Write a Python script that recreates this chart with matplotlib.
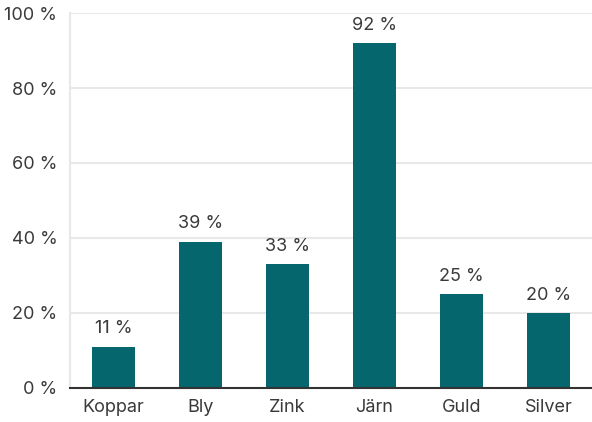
import matplotlib.pyplot as plt

categories = ["Koppar", "Bly", "Zink", "Järn", "Guld", "Silver"]
values = [11, 39, 33, 92, 25, 20]
yticks = [0, 20, 40, 60, 80, 100]

BAR = "#05666e"
TEXT = "#3a3a3a"
GRID = "#e8e8e8"

plt.rcParams.update({"font.family": ["Inter", "DejaVu Sans"], "font.size": 13})

fig = plt.figure(figsize=(5.92, 4.22), dpi=100)
ax = fig.add_axes([0.118, 0.081, 0.882, 0.888])

x = range(len(categories))
ax.bar(x, values, width=0.5, color=BAR, zorder=3)
for i, v in zip(x, values):
    ax.text(i, v + 2.5, f"{v} %", ha="center", va="bottom", color=TEXT, fontsize=13)

ax.set_xlim(-0.5, len(categories) - 0.5)
ax.set_ylim(0, 100)
ax.set_yticks(yticks)
ax.set_yticklabels([f"{t} %" for t in yticks])
ax.set_xticks(list(x))
ax.set_xticklabels(categories)
ax.tick_params(axis="both", length=0, colors=TEXT, labelsize=13)
ax.tick_params(axis="y", pad=9)
ax.tick_params(axis="x", pad=8)

ax.grid(axis="y", color=GRID, linewidth=1.5, zorder=0)
for side in ("top", "right"):
    ax.spines[side].set_visible(False)
ax.spines["left"].set_color(GRID)
ax.spines["left"].set_linewidth(1.5)
ax.spines["bottom"].set_color("#333333")
ax.spines["bottom"].set_linewidth(1.5)
ax.spines["bottom"].set_zorder(4)

fig.savefig("out.png", dpi=100)
